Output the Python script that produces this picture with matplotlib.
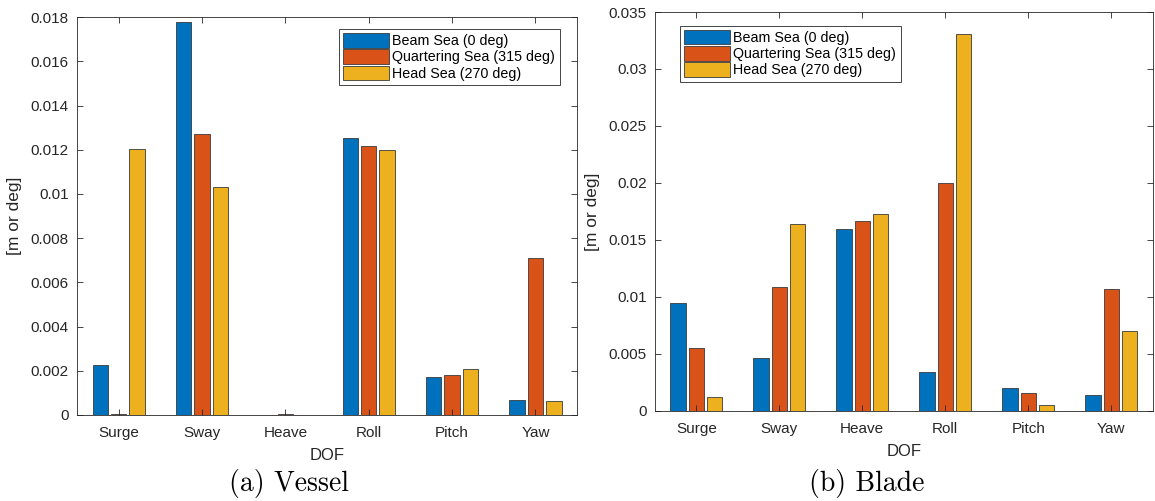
import numpy as np
import matplotlib
matplotlib.use("Agg")
import matplotlib.pyplot as plt
from matplotlib.ticker import FuncFormatter

dof = ["Surge", "Sway", "Heave", "Roll", "Pitch", "Yaw"]
series = ["Beam Sea (0 deg)", "Quartering Sea (315 deg)", "Head Sea (270 deg)"]

vessel_beam = [0.00228, 0.0178, 0.0, 0.01253, 0.0017, 0.0007]
vessel_quarter = [0.00005, 0.0127, 0.00003, 0.01215, 0.0018, 0.00712]
vessel_head = [0.01205, 0.0103, 0.0, 0.01198, 0.00207, 0.00065]

blade_beam = [0.0095, 0.0046, 0.0160, 0.0034, 0.0020, 0.0014]
blade_quarter = [0.0055, 0.0109, 0.0167, 0.0200, 0.0016, 0.0107]
blade_head = [0.0012, 0.0164, 0.0173, 0.0331, 0.0005, 0.0070]

colors = ["#0072BD", "#D95319", "#EDB120"]
plt.rcParams['font.family'] = ['Liberation Sans', 'DejaVu Sans']

fig = plt.figure(figsize=(11.55, 5.01), dpi=100)
ax1 = fig.add_axes([0.0667, 0.1717, 0.433, 0.794])
ax2 = fig.add_axes([0.567, 0.180, 0.431, 0.796])

legend_box = {"upper right": (0.965, 0.97), "upper left": (0.05, 0.965)}


def draw(ax, data, ymax, ystep, legend_loc, caption, cx):
    x = np.arange(1, len(dof) + 1)
    offsets = [-0.22, 0, 0.22]
    for vals, off, c, lab in zip(data, offsets, colors, series):
        ax.bar(x + off, vals, width=0.185, color=c, edgecolor="#3a3a3a",
               linewidth=0.6, label=lab)
    ax.set_xlim(0.5, 6.5)
    ax.set_ylim(0, ymax)
    ax.set_yticks(np.arange(0, ymax + ystep / 2, ystep))
    ax.yaxis.set_major_formatter(FuncFormatter(lambda v, p: "%g" % round(v, 6)))
    ax.set_xticks(x)
    ax.set_xticklabels(dof)
    ax.tick_params(direction="in", top=True, right=True, labelsize=11,
                   colors="#262626", length=4, width=0.6)
    ax.tick_params(axis="x", pad=8)
    ax.tick_params(axis="y", pad=6)
    for s in ax.spines.values():
        s.set_color("#262626")
        s.set_linewidth(0.6)
    ax.set_xlabel("DOF", fontsize=12, color="#262626", labelpad=6)
    ax.set_ylabel("[m or deg]", fontsize=12.5, color="#262626", labelpad=6)
    leg = ax.legend(loc=legend_loc, fontsize=10.3, handlelength=3.2, handleheight=1.15,
                    handletextpad=0.25, labelspacing=0.08, borderpad=0.3,
                    borderaxespad=0, fancybox=False, framealpha=1,
                    edgecolor="#262626", bbox_to_anchor=legend_box[legend_loc])
    leg.get_frame().set_linewidth(0.6)
    fig.text(cx, 0.034, caption, ha="center", va="center", fontsize=20,
             family="cmr10")


draw(ax1, [vessel_beam, vessel_quarter, vessel_head], 0.018, 0.002,
     "upper right", "(a) Vessel", 0.25)
draw(ax2, [blade_beam, blade_quarter, blade_head], 0.035, 0.005,
     "upper left", "(b) Blade", 0.75)

fig.savefig("out.png", dpi=100)
